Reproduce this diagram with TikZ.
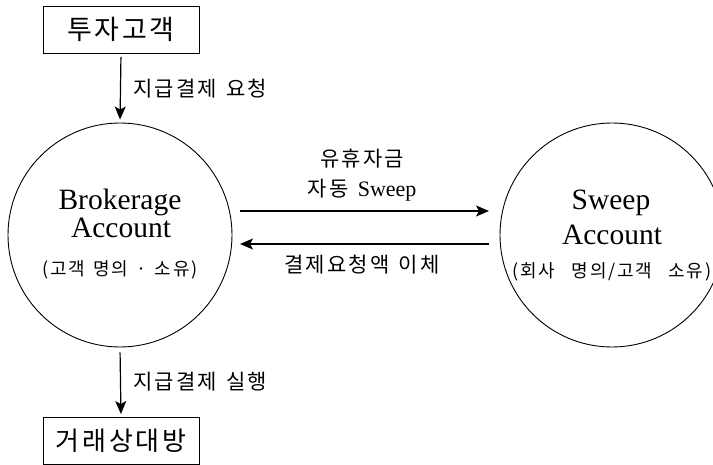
\documentclass[tikz,border=0pt]{standalone}
\usepackage{fontspec}
\setmainfont{Liberation Serif}
\newfontfamily\kr{Noto Sans CJK KR}
\newfontfamily\krs[LetterSpace=10]{Noto Sans CJK KR}
\usetikzlibrary{arrows.meta}
\newcommand{\ksp}{\hspace{0.45em}}
\begin{document}
\begin{tikzpicture}[x=1pt,y=-1pt,
  box/.style={draw, line width=0.9pt, minimum width=156pt, minimum height=47pt, inner sep=0pt, font=\krs\fontsize{27}{30}\selectfont},
  acct/.style={circle, draw, line width=0.9pt, minimum size=224pt, inner sep=0pt},
  big/.style={inner sep=0pt, anchor=base, font=\fontsize{29.5}{32}\selectfont},
  sub/.style={inner sep=0pt, font=\krs\fontsize{18}{20}\selectfont},
  lab/.style={inner sep=0pt, font=\krs\fontsize{21}{24}\selectfont},
  arr/.style={line width=1.2pt, -{Stealth[length=13pt, width=11pt, inset=3pt]}}]
\clip (0,0) rectangle (713,465);
\node[box] (inv) at (121,29.5) {투자고객};
\node[box, font=\krs\fontsize{26}{30}\selectfont] (cp) at (121,441) {거래상대방};
\node[acct] (brok) at (120,235) {};
\node[acct] (swp) at (612,235) {};
\node[big] (b1) at (120,210) {Brokerage};
\node[big] (b2) at (121,238) {Account};
\node[sub] (b3) at (120,270) {(고객\ksp 명의\ksp{\kr ·}\ksp 소유)};
\node[big] (s1) at (611,210) {Sweep};
\node[big] (s2) at (612,245) {Account};
\node[sub] (s3) at (612,272) {(회사\hspace{0.9em}명의/고객\hspace{0.9em}소유)};
\draw[arr, shorten <=3.5pt, shorten >=3pt] (inv.south) -- (brok.north);
\draw[arr, shorten <=5pt, shorten >=3pt] (brok.south) -- (cp.north);
\node[lab, anchor=west] (l1) at (133,89) {지급결제\ksp 요청};
\node[lab, anchor=west] (l2) at (133,382) {지급결제\ksp 실행};
\coordinate (r1) at (240,211);
\coordinate (r2) at (489,211);
\coordinate (q1) at (489,244);
\coordinate (q2) at (240,244);
\draw[arr] (r1) -- (r2);
\draw[arr] (q1) -- (q2);
\node[lab] (m1) at (362,159) {유휴자금};
\node[lab] (m2) at (362,190) {자동\ksp{\rmfamily\fontsize{22}{24}\selectfont Sweep}};
\node[lab] (m3) at (362,265) {결제요청액\ksp 이체};
\end{tikzpicture}
\end{document}
